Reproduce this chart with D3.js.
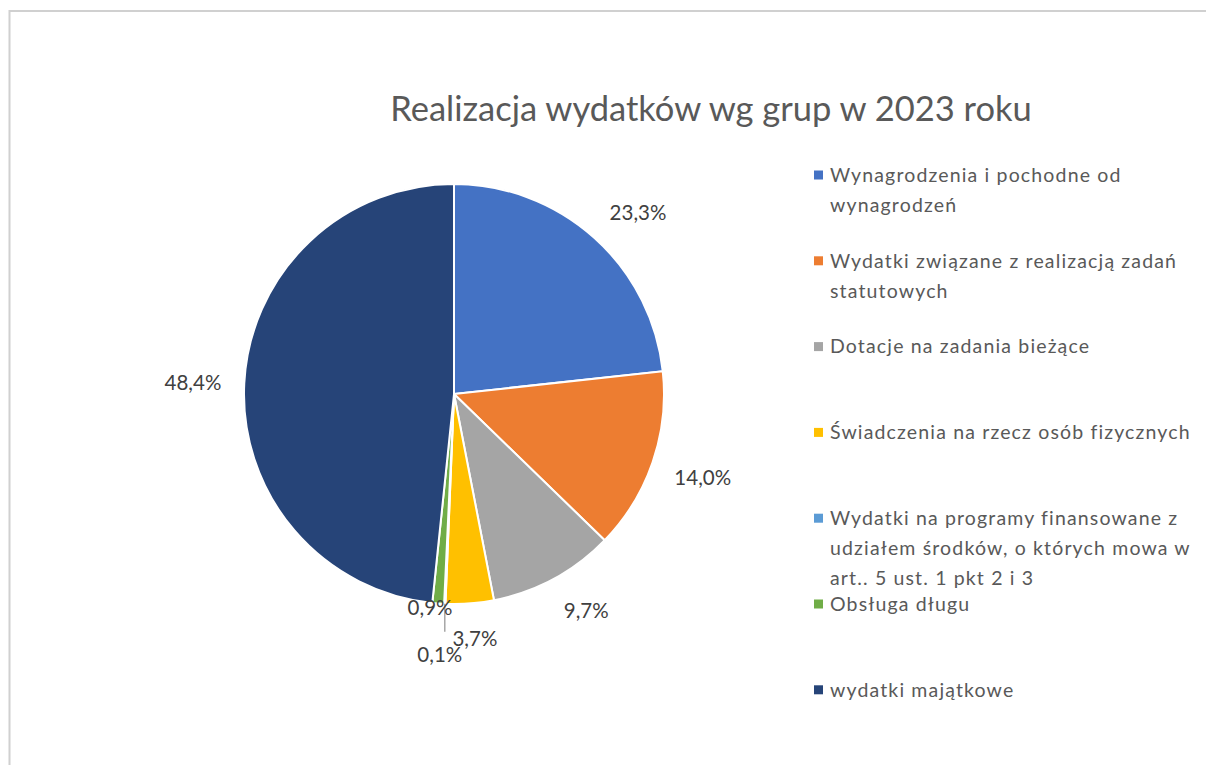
<!DOCTYPE html>
<html>
<head>
<meta charset="utf-8">
<script src="https://cdn.jsdelivr.net/npm/d3@7"></script>
<style>
    body { margin: 0; background: #fff; }
    svg { display: block; font-family: Lato, 'Open Sans', sans-serif; }
</style>
</head>
<body>
<div id="chart"></div>
<script>
// Categories (legend text, line breaks as in the original)
var categories = [
    'Wynagrodzenia i pochodne od\nwynagrodzeń',
    'Wydatki związane z realizacją zadań\nstatutowych',
    'Dotacje na zadania bieżące',
    'Świadczenia na rzecz osób fizycznych',
    'Wydatki na programy finansowane z\nudziałem środków, o których mowa w\nart.. 5 ust. 1 pkt 2 i 3',
    'Obsługa długu',
    'wydatki majątkowe'
];
// Share of expenditure (%)
var shares = [23.3, 14.0, 9.7, 3.7, 0.1, 0.9, 48.4];
var colors = ['#4472C4', '#ED7D31', '#A5A5A5', '#FFC000', '#5B9BD5', '#70AD47', '#264478'];

var width = 1206,
    height = 765;
var cx = 454,
    cy = 394,
    radius = 210;

var fmt = function (v) {
    return v.toFixed(1).replace('.', ',') + '%';
};

var data = categories.map(function (c, i) {
    return { name: c, value: shares[i], color: colors[i] };
});

var svg = d3
    .select('#chart')
    .append('svg')
    .attr('width', width)
    .attr('height', height);

// Frame
svg.append('rect')
    .attr('x', 9.5)
    .attr('y', 11)
    .attr('width', width + 20)
    .attr('height', height + 20)
    .attr('fill', '#fff')
    .attr('stroke', '#d0d0d0')
    .attr('stroke-width', 2);

// Title
svg.append('text')
    .attr('x', 711)
    .attr('y', 121)
    .attr('text-anchor', 'middle')
    .attr('fill', '#595959')
    .style('font-size', '34.5px')
    .text('Realizacja wydatków wg grup w 2023 roku');

// Pie
var pie = d3.pie().sort(null).value(function (d) { return d.value; });
var arc = d3.arc().innerRadius(0).outerRadius(radius);
var arcs = pie(data);

var g = svg.append('g').attr('transform', 'translate(' + cx + ',' + cy + ')');

g.selectAll('path')
    .data(arcs)
    .enter()
    .append('path')
    .attr('d', arc)
    .attr('fill', function (d) { return d.data.color; })
    .attr('stroke', '#fff')
    .attr('stroke-width', 2);

// Leader line for the tiny slice
var tiny = arcs[4];
var ta = (tiny.startAngle + tiny.endAngle) / 2;
g.append('line')
    .attr('x1', Math.sin(ta) * radius)
    .attr('y1', -Math.cos(ta) * radius)
    .attr('x2', Math.sin(ta) * radius)
    .attr('y2', -Math.cos(ta) * radius + 28)
    .attr('stroke', '#a6a6a6')
    .attr('stroke-width', 1.5);

// Data labels: "outside end" - the label box is pushed off an anchor point
var labelR = 233;
var clamp = function (v) { return Math.max(-1, Math.min(1, v)); };

var labels = g.selectAll('text.label')
    .data(arcs)
    .enter()
    .append('text')
    .attr('class', 'label')
    .attr('text-anchor', 'middle')
    .attr('dy', '0.45em')
    .attr('fill', '#404040')
    .style('font-size', '20.5px')
    .text(function (d) { return fmt(d.data.value); });

labels.attr('transform', function (d, i) {
    var a = (d.startAngle + d.endAngle) / 2;
    var s = Math.sin(a), c = -Math.cos(a);
    var w = this.getComputedTextLength(), h = 20;
    var x, y;
    if (i === 4) {
        // tiny slice: label below the leader line
        x = s * radius - 5;
        y = c * radius + 49;
    } else if (i === 5) {
        // squeezed label sitting on the rim
        x = s * 212 - 8;
        y = c * 212;
    } else {
        x = s * labelR + clamp(s * 2) * w / 2;
        y = c * labelR + clamp(c * 2) * h / 2;
    }
    return 'translate(' + x + ',' + y + ')';
});

// Legend
var legend = svg
    .append('g')
    .selectAll('g')
    .data(data)
    .enter()
    .append('g')
    .attr('transform', function (d, i) {
        return 'translate(814,' + (175 + i * 85.8) + ')';
    });

legend.append('rect')
    .attr('x', 0)
    .attr('y', -4.5)
    .attr('width', 9)
    .attr('height', 9)
    .attr('fill', function (d) { return d.color; });

legend.append('text')
    .attr('x', 16)
    .attr('fill', '#595959')
    .style('font-size', '19.5px')
    .style('letter-spacing', '1.15px')
    .selectAll('tspan')
    .data(function (d) { return d.name.split('\n'); })
    .enter()
    .append('tspan')
    .attr('x', 16)
    .attr('y', function (d, i) { return i * 30; })
    .attr('dy', '0.35em')
    .text(function (d) { return d; });
</script>
</body>
</html>
